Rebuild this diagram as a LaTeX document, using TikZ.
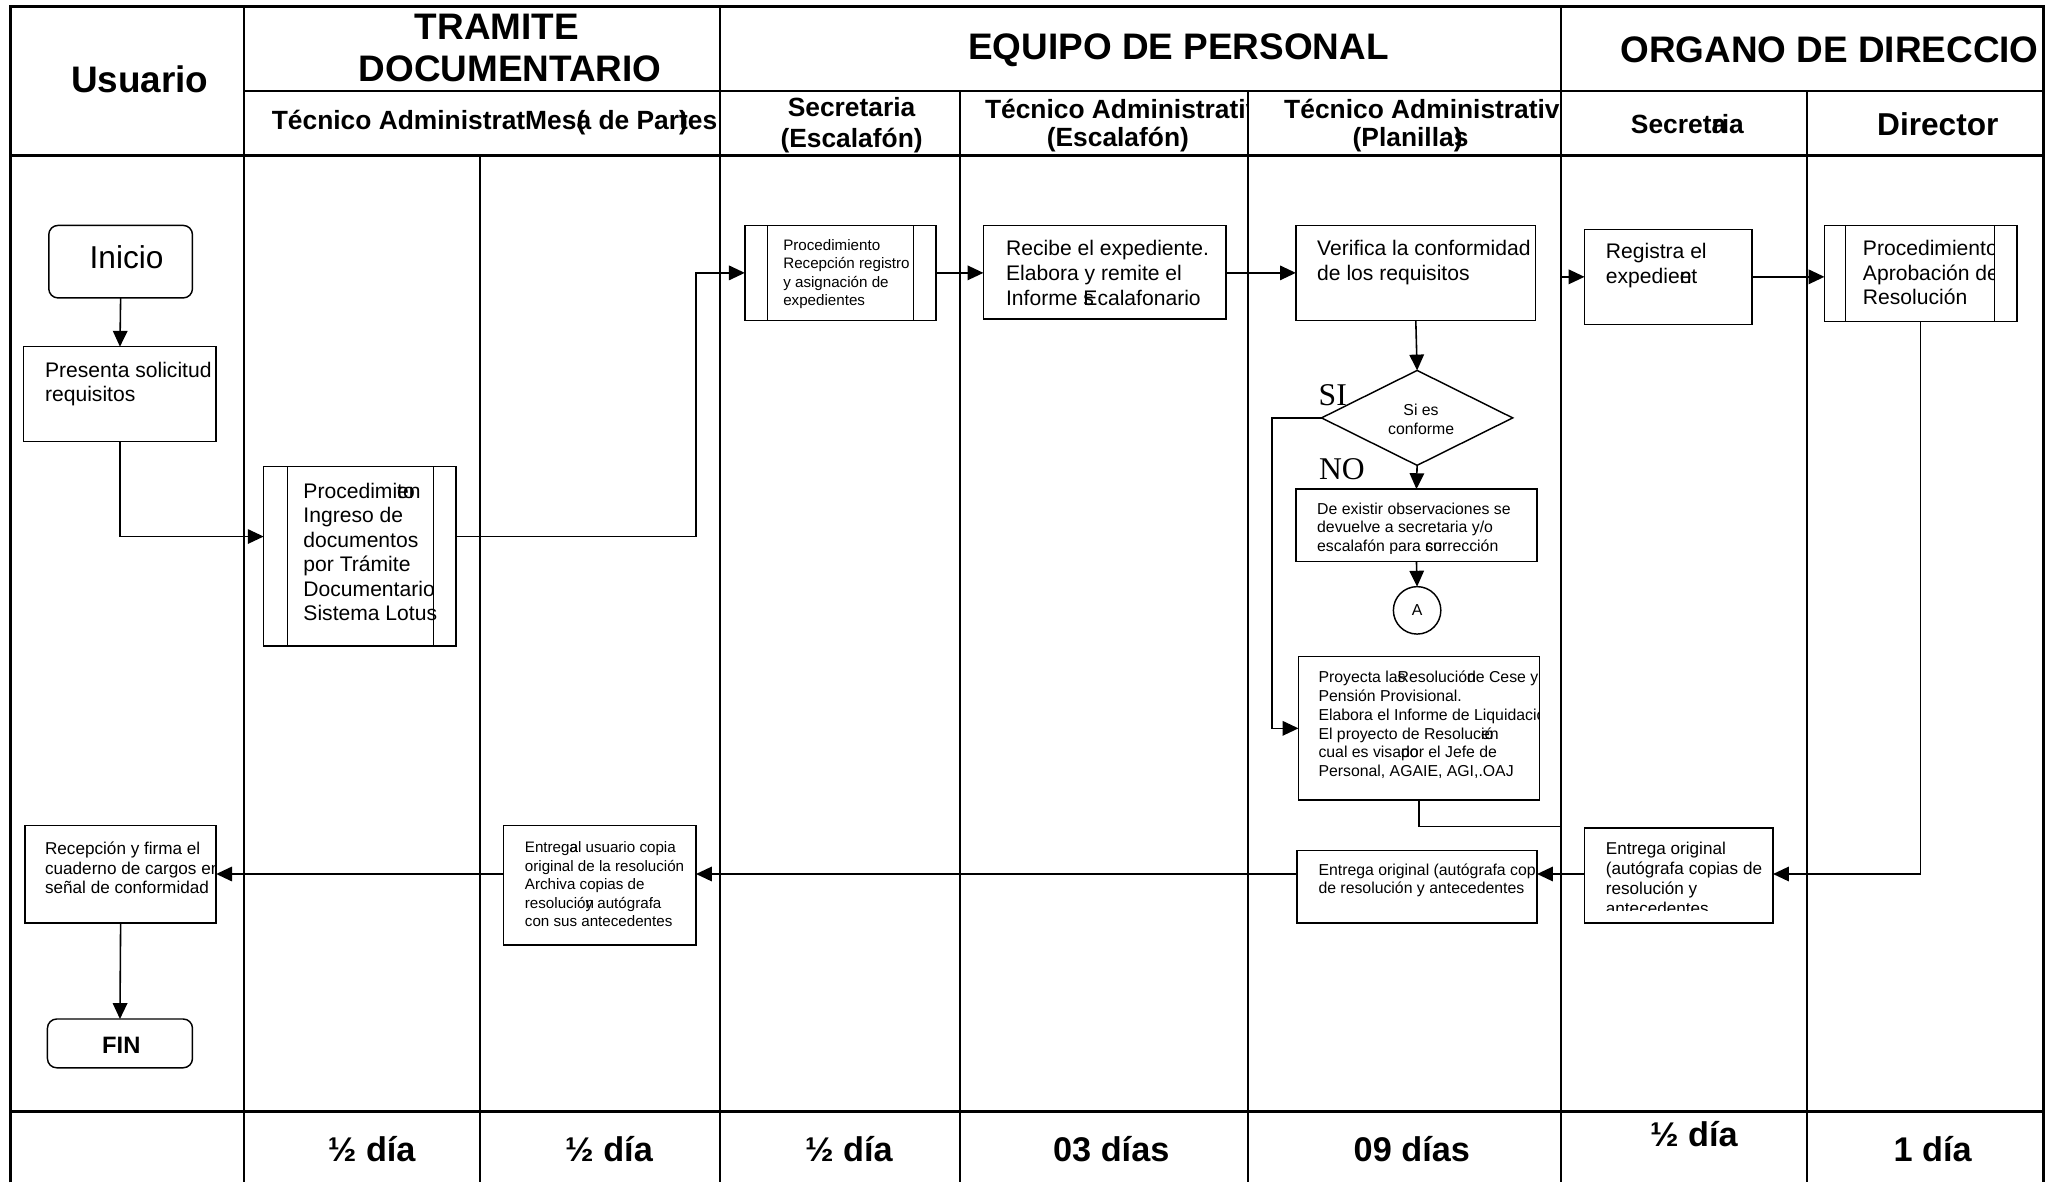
\documentclass[tikz,border=0pt]{standalone}
\usepackage{fontspec}
\setmainfont{Liberation Sans}
\newfontfamily\seriffam{Liberation Serif}
\usetikzlibrary{arrows.meta,shapes.geometric,calc}
\newcommand\fsz[2]{\fontsize{#1}{#2}\selectfont}
\begin{document}
\begin{tikzpicture}[x=1pt,y=-1pt,
  lane/.style={line width=1.5pt},
  frame/.style={line width=2.2pt},
  box/.style={draw, line width=1.1pt, anchor=north west, inner sep=0pt, outer sep=0pt},
  arr/.style={line width=1.2pt, -{Triangle[length=12pt,width=11pt]}},
  ln/.style={line width=1.1pt},
  tx/.style={anchor=base west, inner sep=0pt, align=left},
  hd/.style={font=\bfseries\fsz{28}{32}, align=center, inner sep=0pt},
  sub/.style={font=\bfseries\fsz{20}{23}, align=center, inner sep=0pt},
  dy/.style={font=\bfseries\fsz{26}{30}, inner sep=0pt},
]
\useasboundingbox (0,0) rectangle (1568,897);
\fill[white] (0,0) rectangle (1568,897);

% ---------- lanes ----------
\draw[frame] (8,897) -- (8,5) -- (1550,5) -- (1550,897);
\draw[frame] (185,69) -- (1550,69);
\draw[frame] (8,118) -- (1550,118);
\draw[frame] (8,843) -- (1550,843);
\draw[lane] (185,5) -- (185,897);
\draw[lane] (364,118) -- (364,897);
\draw[lane] (546,5) -- (546,897);
\draw[lane] (728,69) -- (728,897);
\draw[lane] (947,69) -- (947,897);
\draw[lane] (1184,5) -- (1184,897);
\draw[lane] (1371,69) -- (1371,897);

% ---------- headers ----------
\node[hd] (hu) at (106,60) {Usuario};
\node[hd] (ht1) at (377,20) {TRAMITE};
\node[hd] (ht2) at (387,52) {DOCUMENTARIO};
\node[hd] (he) at (894,38) {EQUIPO DE PERSONAL};
\begin{scope}
\clip (1186,7) rectangle (1549,68);
\node[hd, anchor=west] (ho) at (1229,38) {ORGANO DE DIRECCIO};
\end{scope}
\node[sub, anchor=west] (s1) at (206,93) {Técnico Administrat{}Mes\rlap{(}a de Par\rlap{)}tes};
\node[sub] (s2) at (646,95) {Secretaria\\(Escalafón)};
\begin{scope}
\clip (729,70) rectangle (946,117);
\node[sub, anchor=west] (s3a) at (747,83) {Técnico Administrativo};
\end{scope}
\node[sub] (s3b) at (848,106) {(Escalafón)};
\begin{scope}
\clip (948,70) rectangle (1183,117);
\node[sub, anchor=west] (s4a) at (974,83) {Técnico Administrativo};
\end{scope}
\node[sub] (s4b) at (1070,106) {(Planilla\rlap{)}s};
\node[sub] (s5) at (1280,94) {Secret\rlap{a}ria};
\node[sub, font=\bfseries\fsz{24}{28}] (s6) at (1470,94) {Director};

% ---------- days ----------
\node[dy] (d1) at (282,872) {½ día};
\node[dy] (d2) at (462,872) {½ día};
\node[dy] (d3) at (644,872) {½ día};
\node[dy] (d4) at (843,872) {03 días};
\node[dy] (d5) at (1071,872) {09 días};
\node[dy] (d6) at (1285,860) {½ día};
\node[dy] (d7) at (1466,872) {1 día};

% ---------- boxes ----------
\node[box, rounded corners=7pt, minimum width=109pt, minimum height=55pt] (ini) at (37,171) {};
\node[font=\fsz{24}{28}, inner sep=0pt] (tini) at (96,195) {Inicio};

\node[box, minimum width=146pt, minimum height=72pt] (pres) at (18,263) {};
\node[tx, font=\fsz{16}{18.5}] (tpres) at (34,304.5) {Presenta solicitud\\requisitos};

\node[box, minimum width=146pt, minimum height=136pt] (proc1) at (200,354) {};
\draw[ln] ($(proc1.north west)+(18,0)$) -- ($(proc1.south west)+(18,0)$);
\draw[ln] ($(proc1.north east)+(-17,0)$) -- ($(proc1.south east)+(-17,0)$);
\node[tx, font=\fsz{16}{18.6}] (tproc1) at (230,471) {Procedimi\rlap{en}to\\Ingreso de\\documentos\\por Trámite\\Documentario\\Sistema Lotus};

\node[box, minimum width=145pt, minimum height=72pt] (rec) at (565,171) {};
\draw[ln] ($(rec.north west)+(17,0)$) -- ($(rec.south west)+(17,0)$);
\draw[ln] ($(rec.north east)+(-17,0)$) -- ($(rec.south east)+(-17,0)$);
\node[tx, font=\fsz{11.5}{14}] (trec) at (594,232) {Procedimiento\\Recepción registro\\y asignación de\\expedientes};

\node[box, minimum width=184pt, minimum height=71pt] (rcb) at (746,171) {};
\node[tx, font=\fsz{16}{19}] (trcb) at (763,232) {Recibe el expediente.\\Elabora y remite el\\Informe \rlap{s}Ecalafonario};

\node[box, minimum width=182pt, minimum height=72pt] (ver) at (983,171) {};
\begin{scope}
\clip (984,172) rectangle (1164,242);
\node[tx, font=\fsz{16}{19}] (tver) at (999,213) {Verifica la conformidad\\de los requisitos};
\end{scope}

\node[box, minimum width=127pt, minimum height=72pt] (reg) at (1202,174) {};
\node[tx, font=\fsz{16}{19}] (treg) at (1218,215) {Registra el\\expedie\rlap{n}et};

\node[box, minimum width=146pt, minimum height=73pt] (apr) at (1384,171) {};
\draw[ln] ($(apr.north west)+(16,0)$) -- ($(apr.south west)+(16,0)$);
\draw[ln] ($(apr.north east)+(-17,0)$) -- ($(apr.south east)+(-17,0)$);
\begin{scope}
\clip (1401,172) rectangle (1512.5,243);
\node[tx, font=\fsz{16}{18.5}] (tapr) at (1413,231) {Procedimiento\\Aprobación de\\Resolución};
\end{scope}

\node[draw, diamond, line width=1.1pt, minimum width=145pt, minimum height=72pt, inner sep=0pt, outer sep=0pt] (dec) at (1075,317) {};
\node[font=\fsz{12}{14}, align=center, inner sep=0pt] (tdec) at (1078,318) {Si es\\conforme};
\node[font=\seriffam\fsz{24}{26}, inner sep=0pt] (lsi) at (1011,300) {SI};
\node[font=\seriffam\fsz{24}{26}, inner sep=0pt] (lno) at (1018,356) {NO};

\node[box, minimum width=183pt, minimum height=55pt] (obs) at (983,371) {};
\begin{scope}
\clip (984,372) rectangle (1165,420);
\node[tx, font=\fsz{12}{14}] (tobs) at (999,418) {De existir observaciones se\\devuelve a secretaria y/o\\escalafón para \rlap{su}corrección};
\end{scope}

\node[draw, circle, line width=1.1pt, minimum size=36pt, inner sep=0pt, outer sep=0pt, font=\fsz{12}{14}] (ca) at (1075,463) {A};

\node[box, minimum width=183pt, minimum height=109pt] (proy) at (985,498) {};
\begin{scope}
\clip (986,499) rectangle (1167,606);
\node[tx, font=\fsz{12}{14.2}] (tproy) at (1000,589) {Proyecta la\rlap{s}Resolució\rlap{n}de Cese y\\Pensión Provisional.\\Elabora el Informe de Liquidación\\El proyecto de Resoluc\rlap{ió}en\\cual es visa\rlap{do}por el Jefe de\\Personal, AGAIE, AGI,.OAJ};
\end{scope}

\node[box, minimum width=143pt, minimum height=72pt] (eo) at (1202,628) {};
\begin{scope}
\clip (1203,629) rectangle (1344,691);
\node[tx, font=\fsz{13}{15.3}] (teo) at (1218,694) {Entrega original\\(autógrafa copias de\\resolución y\\antecedentes};
\end{scope}

\node[box, minimum width=182pt, minimum height=55pt] (ep) at (984,645) {};
\begin{scope}
\clip (985,646) rectangle (1165,699);
\node[tx, font=\fsz{12}{14}] (tep) at (1000,678) {Entrega original (autógrafa copias\\de resolución y antecedentes};
\end{scope}

\node[box, minimum width=146pt, minimum height=91pt] (eu) at (382,626) {};
\node[tx, font=\fsz{11.5}{14}] (teu) at (398,703) {Entreg\rlap{a}al usuario copia\\original de la resolución\\Archiva copias de\\resolució\rlap{n}y autógrafa\\con sus antecedentes};

\node[box, minimum width=145pt, minimum height=74pt] (rf) at (19,626) {};
\begin{scope}
\clip (20,627) rectangle (163,699);
\node[tx, font=\fsz{13}{15}] (trf) at (34,678) {Recepción y firma el\\cuaderno de cargos en\\señal de conformidad};
\end{scope}

\node[box, rounded corners=7pt, minimum width=110pt, minimum height=37pt] (fin) at (36,773) {};
\node[font=\bfseries\fsz{18}{20}, inner sep=0pt] (tfin) at (92,793) {FIN};

% ---------- connectors ----------
\coordinate (p1in) at (200,407);
\coordinate (j1) at (528,407);
\coordinate (c1) at (1184,210);
\coordinate (j2) at (965,317);
\coordinate (c2) at (1184,627);
\coordinate (ly) at (0,663);

\draw[arr] (ini.south) -- (pres.north);
\draw[arr] (pres.south) |- (p1in);
\draw[arr] (p1in -| proc1.east) -- (j1) |- (rec.west);
\draw[arr] (rec.east) -- (rcb.west |- rec.east);
\draw[arr] (rcb.east |- ver.west) -- (ver.west);
\draw[arr] (c1) -- (reg.west);
\draw[arr] (reg.east) -- (reg.east -| apr.west);
\draw[arr] (apr.south) |- (eo.east |- ly);
\draw[arr] (ver.south) -- (dec.north);
\draw[arr] (dec.south) -- (obs.north);
\draw[arr] (obs.south) -- (ca.north);
\draw[arr] (dec.west) -- (j2) |- (proy.west);
\draw[ln] (proy.south) |- (c2);
\draw[arr] (eo.west |- ly) -- (ep.east |- ly);
\draw[arr] (ep.west |- ly) -- (eu.east |- ly);
\draw[arr] (eu.west |- ly) -- (rf.east |- ly);
\draw[arr] (rf.south) -- (fin.north);
\end{tikzpicture}
\end{document}
